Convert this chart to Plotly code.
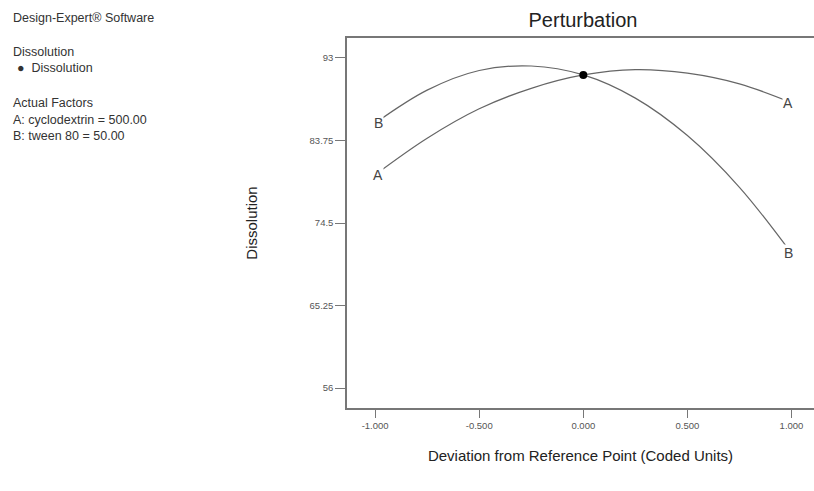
import plotly.graph_objects as go

# Data (coded deviation -> Dissolution)
x_coded = [-1.0, -0.75, -0.5, -0.25, 0.0, 0.25, 0.5, 0.75, 1.0]
factor_A = [79.9, 84.0, 87.3, 89.6, 91.1, 91.7, 91.3, 90.1, 88.0]
factor_B = [85.7, 89.4, 91.6, 92.1, 91.1, 88.5, 84.3, 78.5, 71.1]
ref_x = [0.0]
ref_y = [91.1]
y_ticks = [56, 65.25, 74.5, 83.75, 93]
y_tick_text = ["56", "65.25", "74.5", "83.75", "93"]
x_ticks = [-1.0, -0.5, 0.0, 0.5, 1.0]
x_tick_text = ["-1.000", "-0.500", "0.000", "0.500", "1.000"]

FONT = "Liberation Sans, Arial, sans-serif"
LINE = "#666666"

fig = go.Figure()
for name, ys in [("A", factor_A), ("B", factor_B)]:
    fig.add_trace(go.Scatter(
        x=x_coded, y=ys, mode="lines", line=dict(color=LINE, width=1.2, shape="spline"),
        showlegend=False, hoverinfo="skip"))
    for xe, ye in [(x_coded[0], ys[0]), (x_coded[-1], ys[-1])]:
        fig.add_annotation(x=xe + (0.015 if xe < 0 else -0.015), y=ye, text=name,
                           showarrow=False, bgcolor="white", borderpad=0,
                           xanchor="center", yanchor="middle",
                           font=dict(family=FONT, size=14, color="#444444"))

fig.add_trace(go.Scatter(x=ref_x, y=ref_y, mode="markers",
                         marker=dict(color="black", size=8), showlegend=False))

fig.update_xaxes(range=[-1.135, 1.108], tickvals=x_ticks, ticktext=x_tick_text,
                 showgrid=False, zeroline=False, showline=True, linecolor="#777777",
                 linewidth=1.5, mirror=True, ticks="outside", ticklen=8, tickcolor="#777777",
                 tickfont=dict(family=FONT, size=9.5, color="#555555"),
                 title=dict(text="Deviation from Reference Point (Coded Units)",
                            font=dict(family=FONT, size=15, color="#222222"), standoff=20))
fig.update_yaxes(range=[53.76, 95.24], tickvals=y_ticks, ticktext=y_tick_text,
                 showgrid=False, zeroline=False, showline=True, linecolor="#777777",
                 linewidth=1.5, mirror=False, ticks="outside", ticklen=10, tickcolor="#777777",
                 tickfont=dict(family=FONT, size=9.5, color="#555555"),
                 title=dict(text="Dissolution", font=dict(family=FONT, size=15, color="#222222"),
                            standoff=48))

left_lines = [
    ("Design-Expert® Software", 18),
    ("Dissolution", 52),
    ("●  Dissolution", 68),
    ("Actual Factors", 103),
    ("A: cyclodextrin = 500.00", 120),
    ("B: tween 80 = 50.00", 136),
]
for txt, ypx in left_lines:
    xpx = 15 if txt.startswith("●") else 11
    fig.add_annotation(text=txt, xref="paper", yref="paper",
                       x=(xpx - 347) / 467, y=1 - (ypx - 38) / 370,
                       xanchor="left", yanchor="middle", showarrow=False,
                       font=dict(family=FONT, size=12.5, color="#333333"))

fig.update_layout(
    width=814, height=491,
    margin=dict(l=347, r=0, t=38, b=83),
    paper_bgcolor="white", plot_bgcolor="white",
    title=dict(text="Perturbation", x=(583) / 814, xanchor="center", y=1 - 20 / 491,
               yanchor="middle", font=dict(family=FONT, size=20, color="#222222")),
)

fig.write_html("out.html")
